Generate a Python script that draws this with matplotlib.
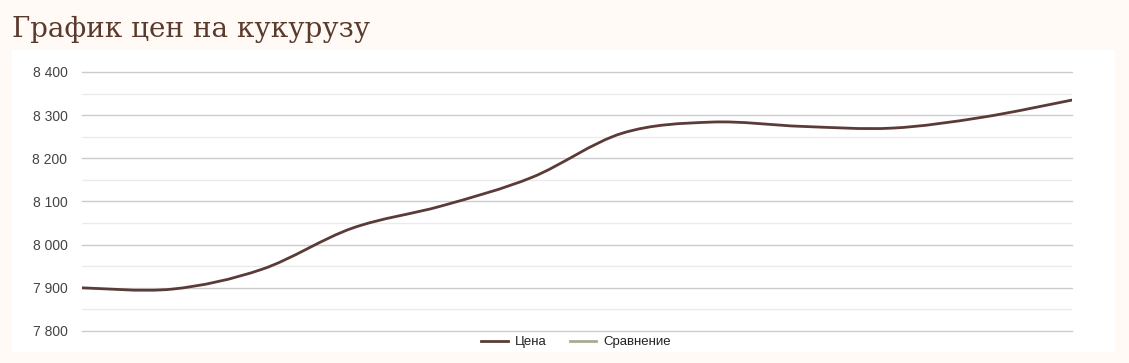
import numpy as np
import matplotlib.pyplot as plt
from matplotlib.path import Path
from matplotlib.patches import PathPatch, Rectangle
from matplotlib.lines import Line2D

# data
months = list(range(12))
price = [7900, 7897, 7943, 8038, 8090, 8156, 8258, 8284, 8274, 8270, 8295, 8335]
y_ticks = [7800, 7900, 8000, 8100, 8200, 8300, 8400]
y_labels = ["7 800", "7 900", "8 000", "8 100", "8 200", "8 300", "8 400"]
title = "График цен на кукурузу"
series_names = ["Цена", "Сравнение"]

price_color = '#5b3b37'
compare_color = '#a8ab94'
bg_color = '#fffaf6'


def smooth_path(xs, ys):
    # catmull-rom style bezier through the data points
    pts = np.column_stack([xs, ys]).astype(float)
    ext = np.vstack([pts[0], pts, pts[-1]])
    verts = [tuple(pts[0])]
    codes = [Path.MOVETO]
    for i in range(1, len(ext) - 2):
        p0, p1, p2, p3 = ext[i - 1], ext[i], ext[i + 1], ext[i + 2]
        c1 = p1 + (p2 - p0) / 6
        c2 = p2 - (p3 - p1) / 6
        verts += [tuple(c1), tuple(c2), tuple(p2)]
        codes += [Path.CURVE4] * 3
    return Path(verts, codes)


fig = plt.figure(figsize=(11.29, 3.63), dpi=100, facecolor=bg_color)
fig.patches.append(Rectangle((12 / 1129, 11 / 363), 1103 / 1129, 302 / 363,
                             transform=fig.transFigure, facecolor='white',
                             edgecolor='none', zorder=-5))

fig.text(12 / 1129, 1 - 37 / 363, title, fontsize=20, color='#5a3a2c',
         family='DejaVu Serif')

ax = fig.add_axes([82 / 1129, 32 / 363, 990 / 1129, 259 / 363])
ax.set_facecolor('none')
ax.set_xlim(0, 11)
ax.set_ylim(7800, 8400)

for v in np.arange(7850, 8400, 100):
    ax.axhline(v, color='#ebebeb', lw=1, zorder=1)
for v in y_ticks:
    ax.axhline(v, color='#cccccc', lw=1, zorder=1, clip_on=False)

ax.add_patch(PathPatch(smooth_path(months, price), facecolor='none',
                       edgecolor=price_color, lw=2, zorder=3,
                       capstyle='round'))

ax.set_yticks(y_ticks)
ax.set_yticklabels(y_labels, family='Liberation Sans', fontsize=10,
                   color='#444444')
ax.tick_params(axis='y', length=0, pad=10.5)
ax.set_xticks([])
for s in ax.spines.values():
    s.set_visible(False)

handles = [Line2D([], [], color=price_color, lw=2),
           Line2D([], [], color=compare_color, lw=2)]
fig.legend(handles, series_names, loc='center', ncol=2,
           bbox_to_anchor=(576 / 1129, 1 - 342 / 363), frameon=False,
           prop={'family': 'Liberation Sans', 'size': 9.5},
           handlelength=2.0, handletextpad=0.5, columnspacing=1.8,
           labelcolor='#222222')

fig.savefig('out.png', dpi=100, facecolor=bg_color)
